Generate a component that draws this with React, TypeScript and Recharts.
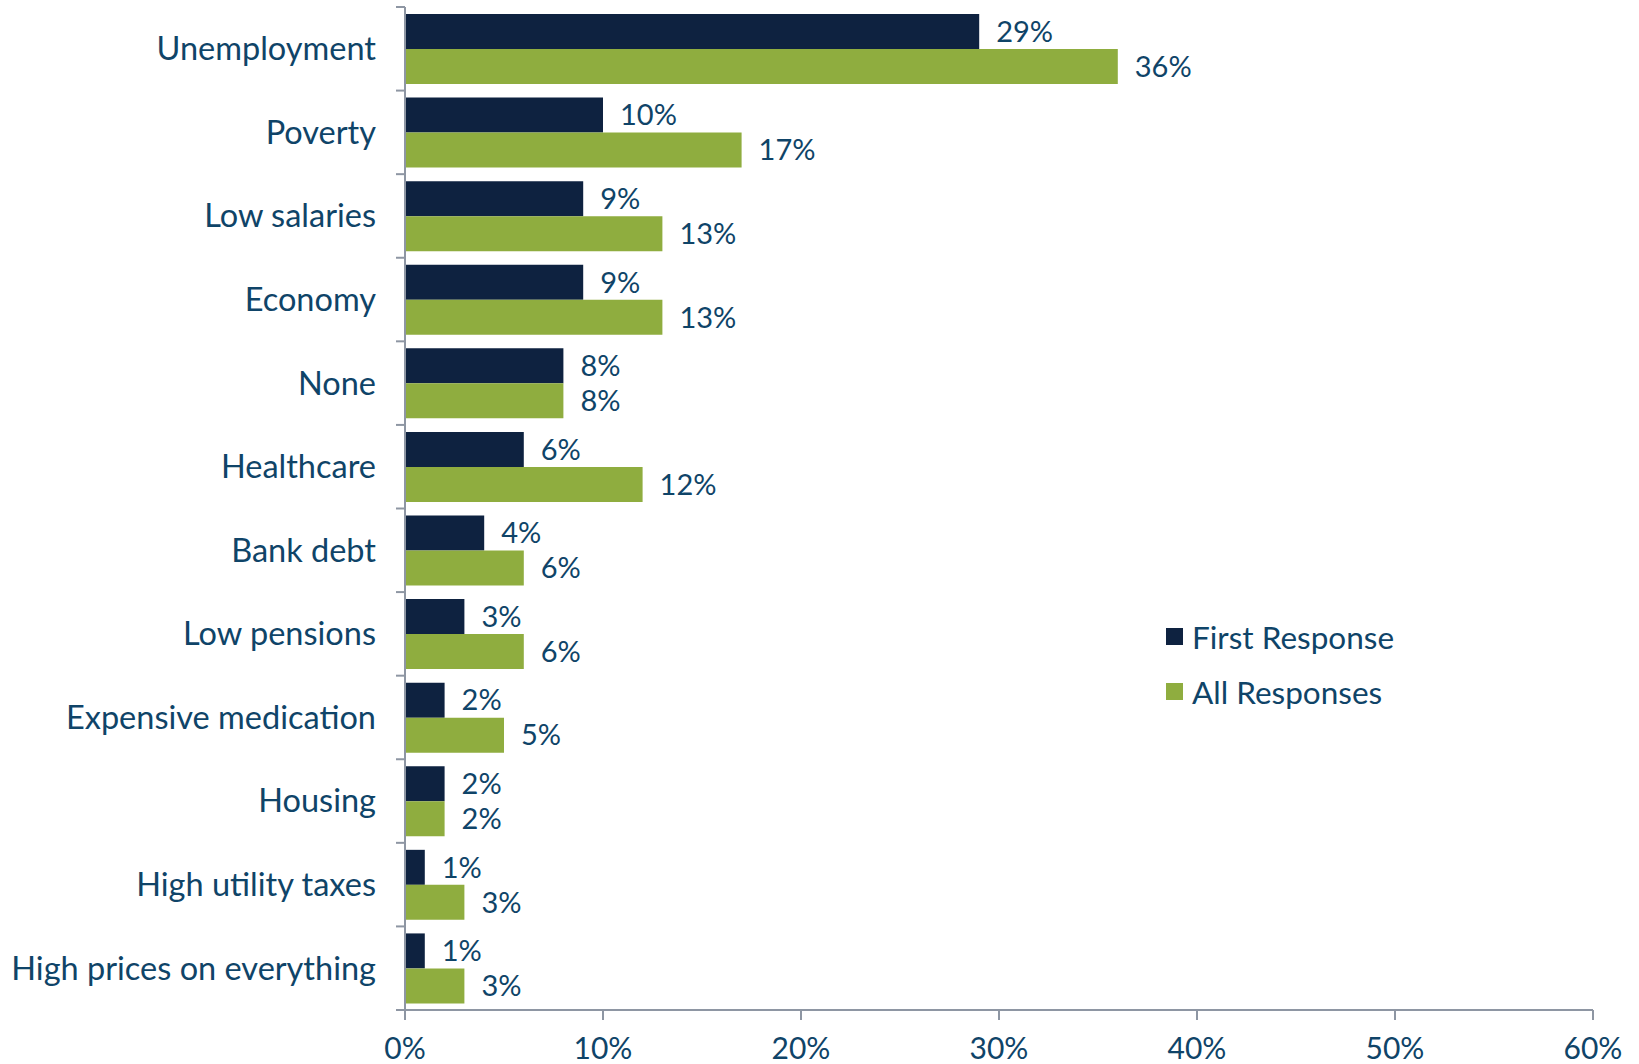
import React from "react";
import { BarChart, Bar, XAxis, YAxis, LabelList } from "recharts";

const categories = [
  "Unemployment",
  "Poverty",
  "Low salaries",
  "Economy",
  "None",
  "Healthcare",
  "Bank debt",
  "Low pensions",
  "Expensive medication",
  "Housing",
  "High utility taxes",
  "High prices on everything",
];
const firstResponse = [29, 10, 9, 9, 8, 6, 4, 3, 2, 2, 1, 1];
const allResponses = [36, 17, 13, 13, 8, 12, 6, 6, 5, 2, 3, 3];
const xTicks = [0, 10, 20, 30, 40, 50, 60];

const NAVY = "#0e2240";
const GREEN = "#8fad3f";
const TEXT = "#0f4468";
const AXIS = "#8e96a3";
const FONT = "Lato, 'Open Sans', sans-serif";
const AXIS_X = 405;

const data = categories.map((name, i) => ({
  name,
  first: firstResponse[i],
  all: allResponses[i],
}));

function CategoryTick(props: any) {
  const { y, payload, index } = props;
  const half = payload && payload.offset ? payload.offset : 41.8;
  return (
    <g>
      <line x1={AXIS_X - 9} x2={AXIS_X} y1={y - half} y2={y - half} stroke={AXIS} strokeWidth={2} />
      {index === categories.length - 1 && (
        <line x1={AXIS_X - 9} x2={AXIS_X} y1={y + half} y2={y + half} stroke={AXIS} strokeWidth={2} />
      )}
      <text
        x={AXIS_X - 29}
        y={y}
        dy="0.35em"
        textAnchor="end"
        fill={TEXT}
        fontSize={32.5}
        fontFamily={FONT}
      >
        {payload.value}
      </text>
    </g>
  );
}

function LegendBox() {
  const items = [
    { label: "First Response", color: NAVY },
    { label: "All Responses", color: GREEN },
  ];
  return (
    <div
      style={{
        position: "absolute",
        left: 1166,
        top: 609,
        fontFamily: FONT,
        fontSize: 31.5,
        color: TEXT,
      }}
    >
      {items.map((it) => (
        <div
          key={it.label}
          style={{ display: "flex", alignItems: "center", height: 55 }}
        >
          <span
            style={{
              width: 17,
              height: 17,
              background: it.color,
              display: "inline-block",
              marginRight: 9,
            }}
          />
          <span>{it.label}</span>
        </div>
      ))}
    </div>
  );
}

export default function App() {
  return (
    <div
      style={{
        position: "fixed",
        left: 0,
        top: 0,
        background: "#fff",
        width: 1639,
        height: 1064,
        overflow: "hidden",
      }}
    >
      <BarChart
        width={1639}
        height={1064}
        data={data}
        layout="vertical"
        margin={{ top: 7, right: 46, bottom: 0, left: 0 }}
        barCategoryGap={7}
        barGap={0}
      >
        <XAxis
          type="number"
          domain={[0, 60]}
          ticks={xTicks}
          tickFormatter={(v) => `${v}%`}
          height={54}
          axisLine={{ stroke: AXIS, strokeWidth: 2 }}
          tickLine={{ stroke: AXIS, strokeWidth: 2 }}
          tickSize={10}
          tickMargin={18}
          tick={{ fill: TEXT, fontSize: 30, fontFamily: FONT }}
          interval={0}
        />
        <YAxis
          type="category"
          dataKey="name"
          width={405}
          axisLine={{ stroke: AXIS, strokeWidth: 2 }}
          tickLine={false}
          tick={<CategoryTick />}
          interval={0}
        />
        <Bar dataKey="first" name="First Response" fill={NAVY} isAnimationActive={false}>
          <LabelList
            dataKey="first"
            position="right"
            offset={17}
            formatter={(v: any) => `${v}%`}
            fill={TEXT}
            fontSize={29}
            fontFamily={FONT}
          />
        </Bar>
        <Bar dataKey="all" name="All Responses" fill={GREEN} isAnimationActive={false}>
          <LabelList
            dataKey="all"
            position="right"
            offset={17}
            formatter={(v: any) => `${v}%`}
            fill={TEXT}
            fontSize={29}
            fontFamily={FONT}
          />
        </Bar>
      </BarChart>
      <LegendBox />
    </div>
  );
}
